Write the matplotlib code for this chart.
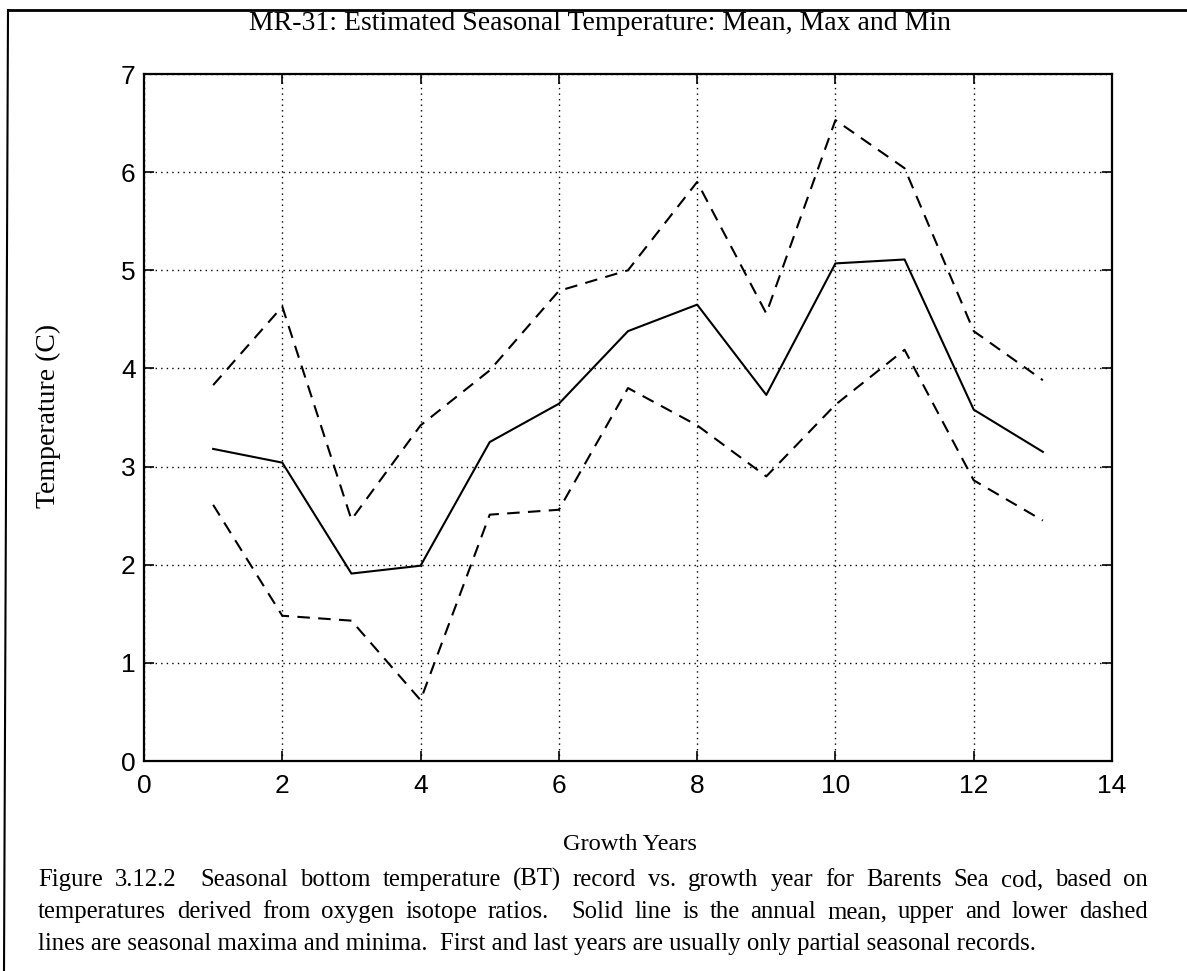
import matplotlib
matplotlib.use("Agg")
import matplotlib.pyplot as plt
from matplotlib.lines import Line2D

years = [1, 2, 3, 4, 5, 6, 7, 8, 9, 10, 11, 12, 13]
mean_temp = [3.18, 3.04, 1.91, 1.99, 3.25, 3.64, 4.38, 4.65, 3.73, 5.07, 5.11, 3.58, 3.15]
max_temp = [3.83, 4.63, 2.46, 3.42, 3.98, 4.79, 5.00, 5.90, 4.56, 6.53, 6.04, 4.38, 3.88]
min_temp = [2.61, 1.48, 1.43, 0.62, 2.51, 2.56, 3.80, 3.42, 2.90, 3.63, 4.19, 2.86, 2.45]
xticks = [0, 2, 4, 6, 8, 10, 12, 14]
yticks = [0, 1, 2, 3, 4, 5, 6, 7]

title = "MR-31: Estimated Seasonal Temperature: Mean, Max and Min"
xlabel = "Growth Years"
ylabel = "Temperature (C)"
caption = [
    "Figure 3.12.2  Seasonal bottom temperature (BT) record vs. growth year for Barents Sea cod, based on",
    "temperatures derived from oxygen isotope ratios.  Solid line is the annual mean, upper and lower dashed",
    "lines are seasonal maxima and minima.  First and last years are usually only partial seasonal records.",
]

W, H = 1187, 971
fig = plt.figure(figsize=(W / 100, H / 100), dpi=100)
ax = fig.add_axes([144 / W, 1 - 761 / H, (1112 - 144) / W, (761 - 74) / H])

dash = (0, (6, 4))
ax.plot(years, mean_temp, color="black", lw=1.5, linestyle="-")
ax.plot(years, max_temp, color="black", lw=1.5, linestyle=dash)
ax.plot(years, min_temp, color="black", lw=1.5, linestyle=dash)

ax.set_xlim(0, 14)
ax.set_ylim(0, 7)
ax.set_xticks(xticks)
ax.set_yticks(yticks)
ax.grid(True, color="black", linestyle=(0, (1, 3)), linewidth=1.0)
ax.tick_params(direction="in", length=7, width=1.2, top=True, right=True,
               labelsize=19, pad=6)
ax.tick_params(axis="x", pad=9)
for lab in ax.get_xticklabels() + ax.get_yticklabels():
    lab.set_fontfamily("Liberation Sans")
for s in ax.spines.values():
    s.set_linewidth(1.6)

fig.text(600 / W, 1 - 24 / H, title, ha="center", va="center",
         fontsize=20, family="Liberation Serif")
fig.text(630 / W, 1 - 845 / H, xlabel, ha="center", va="center",
         fontsize=17.6, family="Liberation Serif")
fig.text(48 / W, 1 - 416 / H, ylabel, ha="center", va="center", rotation=90,
         fontsize=20, family="Liberation Serif")

# justified caption (first two lines), last line left aligned
cap_fs = 17.8
left_px, right_px = 38, 1148
renderer = fig.canvas.get_renderer()
for i, line in enumerate(caption):
    ybase = 1 - (886 + 32 * i) / H
    if i == len(caption) - 1:
        fig.text(left_px / W, ybase, line, ha="left", va="baseline",
                 fontsize=cap_fs, family="Liberation Serif")
        continue
    tokens = line.split(" ")
    words, weights = [], []
    pending = 0.0
    for tok in tokens:
        if tok == "":
            pending += 1.0
            continue
        if words:
            weights.append(1.0 + pending)
        pending = 0.0
        words.append(tok)
    texts, widths = [], []
    for w in words:
        t = fig.text(0, ybase, w, ha="left", va="baseline",
                     fontsize=cap_fs, family="Liberation Serif")
        texts.append(t)
        widths.append(t.get_window_extent(renderer).width)
    gap_total = (right_px - left_px) - sum(widths)
    unit = gap_total / sum(weights)
    x = left_px
    for j, t in enumerate(texts):
        t.set_x(x / W)
        x += widths[j]
        if j < len(weights):
            x += unit * weights[j]

# page frame (top and left edges)
fig.add_artist(Line2D([8 / W, 1.0], [1 - 10 / H, 1 - 10 / H],
                      transform=fig.transFigure, color="black", lw=2))
fig.add_artist(Line2D([8 / W, 4 / W], [1 - 10 / H, 0.0],
                      transform=fig.transFigure, color="black", lw=1.5))

fig.savefig("out.png", dpi=100)
